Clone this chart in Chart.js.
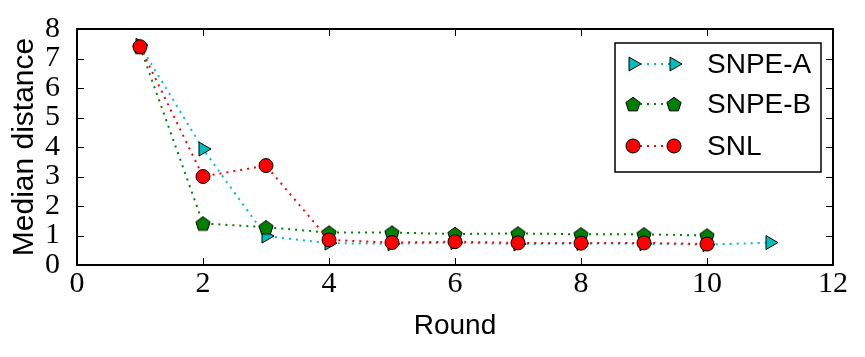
<!DOCTYPE html>
<html>
<head>
<meta charset="utf-8">
<script src="https://cdn.jsdelivr.net/npm/chart.js@4.4.0/dist/chart.umd.min.js"></script>
<style>
  html, body { margin: 0; padding: 0; background: #fff; }
  #wrap { width: 865px; height: 357px; }
</style>
</head>
<body>
<div id="wrap"><canvas id="medianChart" width="865" height="357"></canvas></div>
<script>
// data
const rounds = [1, 2, 3, 4, 5, 6, 7, 8, 9, 10, 11];
const snpeA = [7.45, 3.93, 0.98, 0.74, 0.72, 0.76, 0.71, 0.73, 0.72, 0.69, 0.76];
const snpeB = [7.40, 1.41, 1.28, 1.10, 1.10, 1.05, 1.07, 1.04, 1.04, 1.00];
const snl = [7.40, 3.00, 3.37, 0.85, 0.76, 0.79, 0.75, 0.74, 0.75, 0.71];
const xTicks = [0, 2, 4, 6, 8, 10, 12];
const yTicks = [0, 1, 2, 3, 4, 5, 6, 7, 8];

const CYAN = '#00bfbf';
const GREEN = '#008000';
const RED = '#ff0000';

function toPoints(vals) {
    return vals.map((v, i) => ({ x: rounds[i], y: v }));
}

// pentagon marker (chart.js has no pentagon style)
function pentagonMarker(color) {
    const c = document.createElement('canvas');
    c.width = 18; c.height = 18;
    const g = c.getContext('2d');
    g.beginPath();
    for (let k = 0; k < 5; k++) {
        const a = -Math.PI / 2 + k * 2 * Math.PI / 5;
        const px = 9 + 7.5 * Math.cos(a), py = 9.8 + 7.5 * Math.sin(a);
        if (k === 0) g.moveTo(px, py); else g.lineTo(px, py);
    }
    g.closePath();
    g.fillStyle = color;
    g.fill();
    g.lineWidth = 1;
    g.strokeStyle = '#000';
    g.stroke();
    return c;
}

const pentagon = pentagonMarker(GREEN);

const series = [
    { label: 'SNPE-A', data: snpeA, color: CYAN, style: 'triangle', rot: 90, radius: 8, order: 3 },
    { label: 'SNPE-B', data: snpeB, color: GREEN, style: pentagon, rot: 0, radius: 8, order: 2 },
    { label: 'SNL', data: snl, color: RED, style: 'circle', rot: 0, radius: 7, order: 1 }
];

// frame, inward ticks and matplotlib-like legend
const framePlugin = {
    id: 'frame',
    afterDatasetsDraw(chart) {
        const { ctx, chartArea: a, scales } = chart;
        ctx.save();
        ctx.strokeStyle = '#000';
        ctx.lineWidth = 1;
        const tl = 7;
        xTicks.forEach(t => {
            const px = Math.round(scales.x.getPixelForValue(t)) + 0.5;
            ctx.beginPath();
            ctx.moveTo(px, a.bottom); ctx.lineTo(px, a.bottom - tl);
            ctx.moveTo(px, a.top); ctx.lineTo(px, a.top + tl);
            ctx.stroke();
        });
        yTicks.forEach(t => {
            const py = Math.round(scales.y.getPixelForValue(t)) + 0.5;
            ctx.beginPath();
            ctx.moveTo(a.left, py); ctx.lineTo(a.left + tl, py);
            ctx.moveTo(a.right, py); ctx.lineTo(a.right - tl, py);
            ctx.stroke();
        });
        ctx.lineWidth = 2;
        ctx.strokeRect(a.left, a.top, a.right - a.left, a.bottom - a.top);
        ctx.restore();
    },
    afterDraw(chart) {
        const ctx = chart.ctx;
        const bx = 615, by = 43, bw = 206, bh = 129;
        ctx.save();
        ctx.fillStyle = '#fff';
        ctx.fillRect(bx, by, bw, bh);
        ctx.strokeStyle = '#000';
        ctx.lineWidth = 1.5;
        ctx.strokeRect(bx, by, bw, bh);
        const rowY = [64, 104, 146];
        const m1 = 633, m2 = 674;
        chart.data.datasets.forEach((ds, i) => {
            const y = rowY[i];
            ctx.save();
            ctx.strokeStyle = ds.borderColor;
            ctx.lineWidth = 2;
            ctx.setLineDash([2, 5]);
            ctx.beginPath();
            ctx.moveTo(m1, y); ctx.lineTo(m2, y);
            ctx.stroke();
            ctx.restore();
            [m1, m2].forEach(mx => {
                ctx.fillStyle = ds.pointBackgroundColor;
                ctx.strokeStyle = '#000';
                ctx.lineWidth = 1;
                Chart.helpers.drawPoint(ctx, {
                    pointStyle: ds.pointStyle,
                    rotation: ds.pointRotation,
                    radius: ds.pointRadius,
                    borderWidth: 1
                }, mx, y);
            });
            ctx.fillStyle = '#000';
            ctx.font = '28px "Liberation Sans", Arial, sans-serif';
            ctx.textBaseline = 'middle';
            ctx.textAlign = 'left';
            ctx.fillText(ds.label, 707, y + 1);
        });
        ctx.restore();
    }
};

new Chart(document.getElementById('medianChart'), {
    type: 'line',
    data: {
        datasets: series.map(s => ({
            label: s.label,
            data: toPoints(s.data),
            borderColor: s.color,
            borderWidth: 2,
            borderDash: [2, 5],
            borderCapStyle: 'butt',
            pointStyle: s.style,
            pointRotation: s.rot,
            pointRadius: s.radius,
            pointBackgroundColor: s.color,
            pointBorderColor: '#000',
            pointBorderWidth: 1,
            tension: 0,
            fill: false,
            order: s.order
        }))
    },
    options: {
        responsive: false,
        animation: false,
        events: [],
        layout: { padding: { top: 29, right: 32, left: 0, bottom: 0 } },
        scales: {
            x: {
                type: 'linear',
                min: 0, max: 12,
                afterFit: s => { s.height = 92; },
                afterBuildTicks: s => { s.ticks = xTicks.map(v => ({ value: v })); },
                grid: { display: false },
                border: { display: false },
                ticks: {
                    color: '#000',
                    padding: -7,
                    maxRotation: 0,
                    autoSkip: false,
                    font: { family: '"Liberation Serif", "DejaVu Serif", serif', size: 30 }
                },
                title: {
                    display: true,
                    text: 'Round',
                    color: '#000',
                    padding: { top: 0, bottom: 14 },
                    font: { family: '"Liberation Sans", Arial, sans-serif', size: 28 }
                }
            },
            y: {
                min: 0, max: 8,
                afterFit: s => { s.width = 77; },
                afterBuildTicks: s => { s.ticks = yTicks.map(v => ({ value: v })); },
                grid: { display: false },
                border: { display: false },
                ticks: {
                    color: '#000',
                    padding: 9,
                    autoSkip: false,
                    font: { family: '"Liberation Serif", "DejaVu Serif", serif', size: 30 }
                },
                title: {
                    display: true,
                    text: 'Median distance',
                    color: '#000',
                    padding: { top: 7, bottom: 0 },
                    font: { family: '"Liberation Sans", Arial, sans-serif', size: 30 }
                }
            }
        },
        plugins: {
            legend: { display: false },
            tooltip: { enabled: false }
        }
    },
    plugins: [framePlugin]
});
</script>
</body>
</html>
